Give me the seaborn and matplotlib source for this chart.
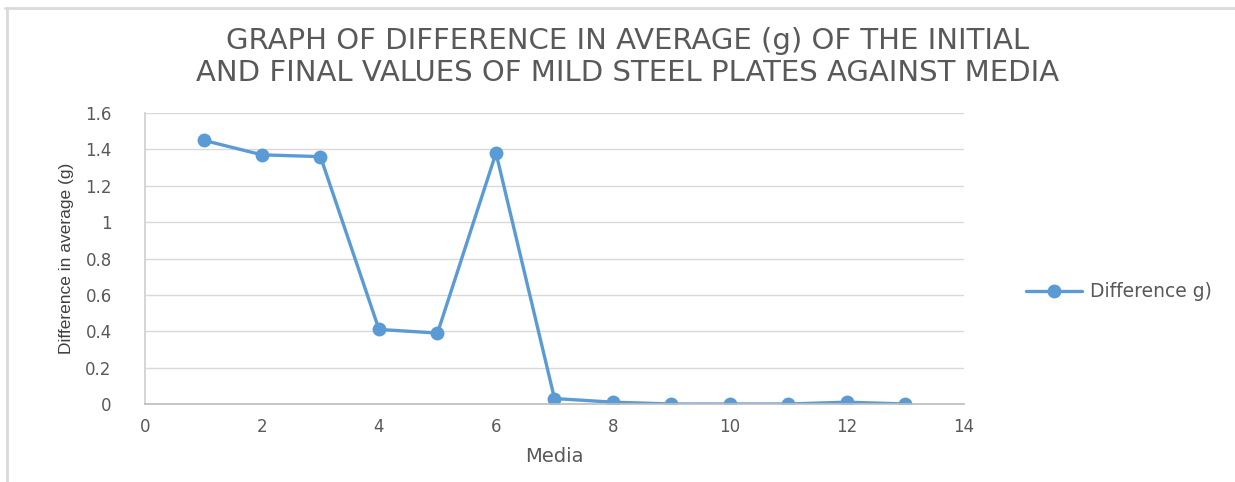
import matplotlib
matplotlib.use("Agg")
import matplotlib.pyplot as plt
import seaborn as sns
import pandas as pd
from matplotlib.lines import Line2D

# data
media = [1, 2, 3, 4, 5, 6, 7, 8, 9, 10, 11, 12, 13]
difference = [1.45, 1.37, 1.36, 0.41, 0.39, 1.38, 0.03, 0.01, 0.0, 0.0, 0.0, 0.01, 0.0]
series_name = "Difference g)"
title_text = ("GRAPH OF DIFFERENCE IN AVERAGE (g) OF THE INITIAL\n"
              "AND FINAL VALUES OF MILD STEEL PLATES AGAINST MEDIA")
x_ticks = [0, 2, 4, 6, 8, 10, 12, 14]
y_ticks = [0, 0.2, 0.4, 0.6, 0.8, 1.0, 1.2, 1.4, 1.6]
y_tick_labels = ["0", "0.2", "0.4", "0.6", "0.8", "1", "1.2", "1.4", "1.6"]

df = pd.DataFrame({"Media": media, "Difference": difference, "series": series_name})

sns.set_theme(style="white")
plt.rcParams["font.family"] = ["DejaVu Sans"]

W, H = 1235, 482
fig = plt.figure(figsize=(W / 100, H / 100), dpi=100)
ax = fig.add_axes([145 / W, 1 - 404 / H, (964 - 145) / W, (404 - 113) / H])

blue = "#5B9BD5"
grey_txt = "#595959"

sns.lineplot(data=df, x="Media", y="Difference", hue="series", palette=[blue],
             marker="o", markersize=10, markeredgewidth=0, linewidth=2.4, ax=ax)

ax.set_xlim(0, 14)
ax.set_ylim(0, 1.6)
ax.set_xticks(x_ticks)
ax.set_yticks(y_ticks)
ax.set_yticklabels(y_tick_labels)
ax.tick_params(axis="both", length=0, labelsize=12, labelcolor=grey_txt)
ax.tick_params(axis="y", pad=24)
ax.tick_params(axis="x", pad=10)
ax.yaxis.grid(True, color="#D9D9D9", linewidth=1)
ax.set_axisbelow(True)
for s in ["top", "right"]:
    ax.spines[s].set_visible(False)
ax.spines["left"].set_color("#D0D0D0")
ax.spines["bottom"].set_color("#BFBFBF")

ax.set_xlabel("Media", fontsize=14, color=grey_txt, labelpad=8)
ax.set_ylabel("Difference in average (g)", fontsize=12.5, color="#404040",
              family=["Liberation Sans Narrow", "Liberation Sans", "DejaVu Sans"],
              labelpad=8)

fig.text(628 / W, 1 - 57 / H, title_text, ha="center", va="center",
         fontsize=21, color=grey_txt, linespacing=1.15)

ax.legend(loc="center left", bbox_to_anchor=(1.055, 0.385), frameon=False,
          fontsize=13.5, labelcolor=grey_txt, handlelength=3.0, handletextpad=0.4)

# outer chart frame (left and top edges visible in reference)
fig.add_artist(Line2D([7 / W, 7 / W], [0, 1 - 8 / H], color="#D9D9D9", linewidth=2))
fig.add_artist(Line2D([5 / W, 1], [1 - 8 / H, 1 - 8 / H], color="#D9D9D9", linewidth=2))

fig.savefig("out.png", dpi=100)
